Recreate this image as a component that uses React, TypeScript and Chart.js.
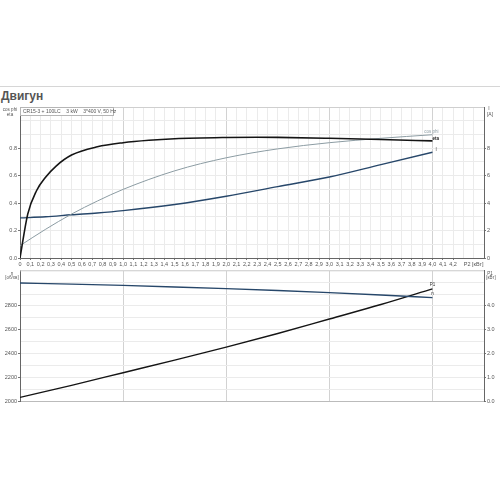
import React, { useEffect, useRef } from "react";
import { Chart, registerables } from "chart.js";

Chart.register(...registerables);

// ---------- data ----------
const etaX = [0, 0.075, 0.16, 0.25, 0.35, 0.5, 0.75, 1.0, 1.25, 1.5, 2.0, 2.3, 2.5, 3.0, 3.5, 4.0];
const etaY = [0, 0.32, 0.49, 0.59, 0.67, 0.75, 0.81, 0.84, 0.858, 0.869, 0.878, 0.88, 0.879, 0.872, 0.863, 0.853];

const cosX = [0, 0.25, 0.5, 0.75, 1.0, 1.5, 2.0, 2.5, 3.0, 3.5, 4.0];
const cosY = [0.09, 0.21, 0.32, 0.415, 0.5, 0.635, 0.73, 0.795, 0.84, 0.872, 0.898];

const currentX = [0, 0.25, 0.5, 0.75, 1.0, 1.5, 2.0, 2.5, 3.0, 3.5, 4.0];
const currentY = [2.92, 3.0, 3.15, 3.28, 3.45, 3.9, 4.5, 5.2, 5.9, 6.8, 7.7];

const lowX = [0, 0.5, 1, 1.5, 2, 2.5, 3, 3.5, 4];
const speedY = [2993, 2984, 2973, 2960, 2946, 2930, 2912, 2892, 2870];
const p1Y = [0.15, 0.66, 1.19, 1.72, 2.27, 2.84, 3.45, 4.06, 4.72];

const title = "Двигун";
const header = "CR15-3 + 100LC    3 kW    3*400 V, 50 Hz";
const xAxisTitle = "P2 [кВт]";
const curveLabels = { cos: "cos phi", eta: "eta", current: "I", speed: "n", p1: "P1" };

// ---------- helpers ----------
const FONT = "'Liberation Sans', Arial, sans-serif";
const pts = (xs: number[], ys: number[]) => xs.map((x, i) => ({ x, y: ys[i] }));
const near = (a: number, b: number) => Math.abs(a - b) < 1e-6;
const isInt = (v: number) => near(v, Math.round(v));
const tickFont = { family: FONT, size: 5.5 };

function drawText(ctx: CanvasRenderingContext2D, t: string, x: number, y: number, align: CanvasTextAlign, base: CanvasTextBaseline, size = 5, color = "#444", bold = false) {
  ctx.save();
  ctx.font = `${bold ? "bold " : ""}${size}px ${FONT}`;
  ctx.fillStyle = color;
  ctx.textAlign = align;
  ctx.textBaseline = base;
  ctx.fillText(t, x, y);
  ctx.restore();
}

function lastPt(chart: any, i: number) {
  const d = chart.getDatasetMeta(i).data;
  const p = d[d.length - 1];
  return { x: p.x, y: p.y };
}

const xTickLabel = (v: number) => {
  if (near(v, 4.4)) return xAxisTitle;
  if (v > 4.2 + 1e-6) return "";
  if (near(v, 0)) return "0";
  return v.toFixed(1).replace(".", ",");
};

export default function App() {
  const topRef = useRef<HTMLCanvasElement>(null);
  const botRef = useRef<HTMLCanvasElement>(null);

  useEffect(() => {
    const topPlugin = {
      id: "topDecor",
      afterDraw(chart: any) {
        const ctx = chart.ctx as CanvasRenderingContext2D;
        const a = chart.chartArea;
        ctx.save();
        ctx.strokeStyle = "#cfcfcf";
        ctx.lineWidth = 1;
        ctx.beginPath();
        ctx.moveTo(a.left, a.top + 0.5);
        ctx.lineTo(a.right, a.top + 0.5);
        ctx.stroke();
        // header box
        ctx.fillStyle = "#fff";
        ctx.fillRect(a.left + 0.5, a.top + 0.5, 93, 8);
        ctx.strokeStyle = "#b5b5b5";
        ctx.strokeRect(a.left + 0.5, a.top + 0.5, 93, 8);
        ctx.restore();
        drawText(ctx, header, a.left + 3, a.top + 4.8, "left", "middle", 5, "#555");
        // axis titles
        drawText(ctx, "cos phi", 10, a.top + 3, "center", "middle", 4.5, "#555");
        drawText(ctx, "eta", 10, a.top + 8, "center", "middle", 4.5, "#555");
        drawText(ctx, "I", a.right + 5, a.top + 2, "center", "middle", 5, "#555");
        drawText(ctx, "[A]", a.right + 6, a.top + 8, "center", "middle", 5, "#555");
        // curve labels
        const c = lastPt(chart, 1);
        drawText(ctx, curveLabels.cos, c.x - 1, c.y - 0.5, "center", "bottom", 4.5, "#8c9ca3");
        const e = lastPt(chart, 0);
        drawText(ctx, curveLabels.eta, e.x, e.y - 2, "left", "middle", 4.5, "#222", true);
        const i = lastPt(chart, 2);
        drawText(ctx, curveLabels.current, i.x + 3, i.y - 3, "left", "middle", 4.5, "#333");
      },
    };

    const botPlugin = {
      id: "botDecor",
      afterDraw(chart: any) {
        const ctx = chart.ctx as CanvasRenderingContext2D;
        const a = chart.chartArea;
        ctx.save();
        ctx.strokeStyle = "#cfcfcf";
        ctx.lineWidth = 1;
        ctx.beginPath();
        ctx.moveTo(a.left, a.top + 0.5);
        ctx.lineTo(a.right, a.top + 0.5);
        ctx.stroke();
        ctx.restore();
        drawText(ctx, "n", 12, a.top + 3, "center", "middle", 4.5, "#555");
        drawText(ctx, "[об/хв]", 12, a.top + 7.5, "center", "middle", 4.5, "#555");
        drawText(ctx, "P1", a.right + 6, a.top + 3, "center", "middle", 4.5, "#555");
        drawText(ctx, "[кВт]", a.right + 7, a.top + 7, "center", "middle", 4.5, "#555");
        const p = lastPt(chart, 1);
        drawText(ctx, curveLabels.p1, p.x, p.y - 1.5, "center", "bottom", 4.5, "#333");
        const n = lastPt(chart, 0);
        drawText(ctx, curveLabels.speed, n.x, n.y - 1.5, "center", "bottom", 4.5, "#333");
      },
    };

    const top = new Chart(topRef.current!, {
      type: "line",
      data: {
        datasets: [
          { label: "eta", data: pts(etaX, etaY), yAxisID: "y", borderColor: "#151515", borderWidth: 1.6, pointRadius: 0, cubicInterpolationMode: "monotone" },
          { label: "cos phi", data: pts(cosX, cosY), yAxisID: "y", borderColor: "#8c9ca3", borderWidth: 1, pointRadius: 0, cubicInterpolationMode: "monotone" },
          { label: "I", data: pts(currentX, currentY), yAxisID: "y2", borderColor: "#27476a", borderWidth: 1.4, pointRadius: 0, cubicInterpolationMode: "monotone" },
        ],
      },
      options: {
        animation: false,
        responsive: false,
        events: [],
        layout: { padding: { top: 7, left: 0, right: 0, bottom: 0 } },
        plugins: { legend: { display: false }, tooltip: { enabled: false } },
        scales: {
          x: {
            type: "linear",
            min: 0,
            max: 4.5,
            afterFit: (s: any) => { s.height = 12; },
            ticks: { stepSize: 0.1, autoSkip: false, maxRotation: 0, includeBounds: false, padding: 1, color: "#555", font: tickFont, callback: (v: any) => xTickLabel(Number(v)) },
            grid: {
              color: (c: any) => (c.tick && isInt(c.tick.value) ? "#d2d2d2" : "#ebebeb"),
              tickColor: (c: any) => (c.tick && c.tick.value <= 4.2 + 1e-6 ? "#777" : "transparent"),
              tickLength: 2,
            },
            border: { color: "#666" },
          },
          y: {
            position: "left",
            min: 0,
            max: 1.1,
            afterFit: (s: any) => { s.width = 20; },
            ticks: {
              stepSize: 0.1,
              includeBounds: false,
              padding: 1,
              color: "#555",
              font: tickFont,
              callback: (v: any) => {
                const n = Math.round(Number(v) * 10);
                return n % 2 === 0 && n <= 8 ? (n / 10).toFixed(1) : "";
              },
            },
            grid: {
              color: "#ebebeb",
              tickColor: (c: any) => {
                const n = c.tick ? Math.round(c.tick.value * 10) : 1;
                return n % 2 === 0 && n <= 8 ? "#777" : "transparent";
              },
              tickLength: 2,
            },
            border: { color: "#666" },
          },
          y2: {
            position: "right",
            min: 0,
            max: 11,
            afterFit: (s: any) => { s.width = 16; },
            ticks: {
              stepSize: 1,
              includeBounds: false,
              padding: 1,
              color: "#555",
              font: tickFont,
              callback: (v: any) => {
                const n = Math.round(Number(v));
                return n % 2 === 0 && n <= 8 ? String(n) : "";
              },
            },
            grid: {
              drawOnChartArea: false,
              tickColor: (c: any) => {
                const n = c.tick ? Math.round(c.tick.value) : 1;
                return n % 2 === 0 && n <= 8 ? "#777" : "transparent";
              },
              tickLength: 2,
            },
            border: { color: "#666" },
          },
        },
      },
      plugins: [topPlugin],
    } as any);

    const bot = new Chart(botRef.current!, {
      type: "line",
      data: {
        datasets: [
          { label: "n", data: pts(lowX, speedY), yAxisID: "y", borderColor: "#27476a", borderWidth: 1.4, pointRadius: 0, cubicInterpolationMode: "monotone" },
          { label: "P1", data: pts(lowX, p1Y), yAxisID: "y2", borderColor: "#151515", borderWidth: 1.4, pointRadius: 0, cubicInterpolationMode: "monotone" },
        ],
      },
      options: {
        animation: false,
        responsive: false,
        events: [],
        layout: { padding: { top: 3, left: 0, right: 0, bottom: 0 } },
        plugins: { legend: { display: false }, tooltip: { enabled: false } },
        scales: {
          x: {
            type: "linear",
            min: 0,
            max: 4.5,
            afterFit: (s: any) => { s.height = 5; },
            ticks: { display: false, stepSize: 0.1, autoSkip: false, includeBounds: false },
            grid: {
              color: (c: any) => (c.tick && isInt(c.tick.value) && c.tick.value > 0 ? "#d2d2d2" : "transparent"),
              drawTicks: false,
            },
            border: { color: "#bbb" },
          },
          y: {
            position: "left",
            min: 2000,
            max: 3100,
            afterFit: (s: any) => { s.width = 20; },
            ticks: {
              stepSize: 100,
              includeBounds: false,
              padding: 1,
              color: "#555",
              font: tickFont,
              callback: (v: any) => {
                const n = Math.round(Number(v));
                return n % 200 === 0 && n <= 2800 ? String(n) : "";
              },
            },
            grid: {
              color: "#ebebeb",
              tickColor: (c: any) => {
                const n = c.tick ? Math.round(c.tick.value) : 1;
                return n % 200 === 0 && n <= 2800 ? "#777" : "transparent";
              },
              tickLength: 2,
            },
            border: { color: "#666" },
          },
          y2: {
            position: "right",
            min: 0,
            max: 5.5,
            afterFit: (s: any) => { s.width = 16; },
            ticks: {
              stepSize: 0.5,
              includeBounds: false,
              padding: 1,
              color: "#555",
              font: tickFont,
              callback: (v: any) => {
                const n = Math.round(Number(v) * 2);
                return n % 2 === 0 && n <= 8 ? (n / 2).toFixed(1) : "";
              },
            },
            grid: {
              drawOnChartArea: false,
              tickColor: (c: any) => {
                const n = c.tick ? Math.round(c.tick.value * 2) : 1;
                return n % 2 === 0 && n <= 8 ? "#777" : "transparent";
              },
              tickLength: 2,
            },
            border: { color: "#666" },
          },
        },
      },
      plugins: [botPlugin],
    } as any);

    return () => {
      top.destroy();
      bot.destroy();
    };
  }, []);

  return (
    <div style={{ position: "fixed", left: 0, top: 0, width: 500, height: 500, background: "#fff", overflow: "hidden" }}>
      <div style={{ position: "absolute", left: 0, top: 86, width: 500, height: 1, background: "#d6d6d6" }} />
      <div style={{ position: "absolute", left: 1, top: 89, font: `bold 12px ${FONT}`, color: "#555", lineHeight: "14px" }}>{title}</div>
      <canvas ref={topRef} width={500} height={170} style={{ position: "absolute", left: 0, top: 100, width: 500, height: 170 }} />
      <canvas ref={botRef} width={500} height={140} style={{ position: "absolute", left: 0, top: 266, width: 500, height: 140 }} />
    </div>
  );
}
